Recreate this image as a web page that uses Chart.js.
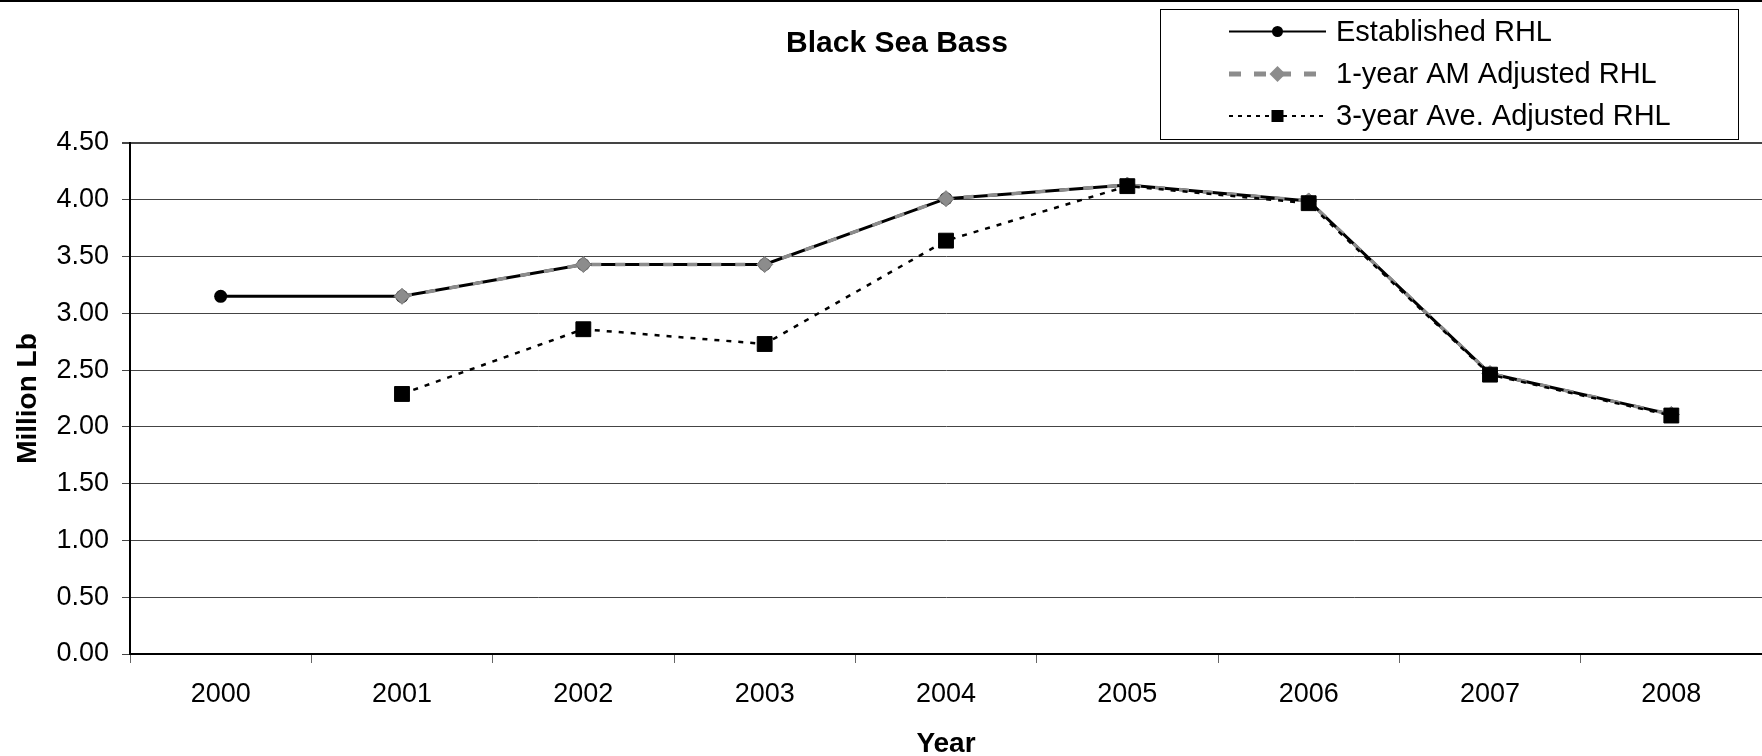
<!DOCTYPE html>
<html>
<head>
<meta charset="utf-8">
<title>Black Sea Bass</title>
<script src="https://cdn.jsdelivr.net/npm/chart.js@4/dist/chart.umd.min.js"></script>
<style>
  html, body { margin: 0; padding: 0; background: #fff; }
  #wrap { width: 1762px; height: 756px; }
</style>
</head>
<body>
<div id="wrap"><canvas id="c" width="1762" height="756"></canvas></div>
<script>
// Recreational harvest limits, million pounds
const years = ['2000', '2001', '2002', '2003', '2004', '2005', '2006', '2007', '2008'];
const establishedRHL = [3.15, 3.15, 3.43, 3.43, 4.01, 4.13, 3.99, 2.47, 2.11];
const oneYearAMAdjusted = [null, 3.15, 3.43, 3.43, 4.01, 4.13, 3.99, 2.47, 2.11];
const threeYearAveAdjusted = [null, 2.29, 2.86, 2.73, 3.64, 4.12, 3.97, 2.46, 2.10];
const yTickValues = [0, 0.5, 1, 1.5, 2, 2.5, 3, 3.5, 4, 4.5];

const seriesNames = ['Established RHL', '1-year AM Adjusted RHL', '3-year Ave. Adjusted RHL'];
const FONT = '"Liberation Sans", Arial, Helvetica, sans-serif';

// Title, frame line and boxed legend drawn straight on the canvas
const decorations = {
  id: 'decorations',
  beforeDraw(chart) {
    const ctx = chart.ctx;
    ctx.save();
    ctx.fillStyle = '#fff';
    ctx.fillRect(0, 0, chart.width, chart.height);
    ctx.restore();
  },
  afterDraw(chart) {
    const ctx = chart.ctx;
    ctx.save();
    // top frame line
    ctx.fillStyle = '#000';
    ctx.fillRect(0, 0, chart.width, 2);

    // title
    ctx.font = 'bold 30px ' + FONT;
    ctx.textAlign = 'center';
    ctx.textBaseline = 'middle';
    ctx.fillText('Black Sea Bass', 897, 44);

    // legend box
    ctx.strokeStyle = '#000';
    ctx.lineWidth = 1;
    ctx.strokeRect(1160.5, 9.5, 578, 130);

    const rows = [31.5, 74, 116];
    const x0 = 1229, x1 = 1326, xm = 1277.5;
    ctx.font = '29px ' + FONT;
    ctx.textAlign = 'left';
    ctx.textBaseline = 'middle';

    // Established RHL
    ctx.beginPath();
    ctx.setLineDash([]);
    ctx.lineWidth = 2;
    ctx.strokeStyle = '#000';
    ctx.moveTo(x0, rows[0]); ctx.lineTo(x1, rows[0]);
    ctx.stroke();
    ctx.beginPath();
    ctx.fillStyle = '#000';
    ctx.arc(xm, rows[0], 5.5, 0, Math.PI * 2);
    ctx.fill();

    // 1-year AM adjusted
    ctx.beginPath();
    ctx.setLineDash([12, 13]);
    ctx.lineWidth = 5;
    ctx.strokeStyle = '#8c8c8c';
    ctx.moveTo(x0, rows[1]); ctx.lineTo(x1, rows[1]);
    ctx.stroke();
    ctx.setLineDash([]);
    ctx.beginPath();
    ctx.fillStyle = '#8c8c8c';
    ctx.moveTo(xm - 8, rows[1]); ctx.lineTo(xm, rows[1] - 8);
    ctx.lineTo(xm + 8, rows[1]); ctx.lineTo(xm, rows[1] + 8);
    ctx.closePath();
    ctx.fill();

    // 3-year average adjusted
    ctx.beginPath();
    ctx.setLineDash([4, 5]);
    ctx.lineWidth = 2;
    ctx.strokeStyle = '#000';
    ctx.moveTo(x0, rows[2]); ctx.lineTo(x1, rows[2]);
    ctx.stroke();
    ctx.setLineDash([]);
    ctx.fillStyle = '#000';
    ctx.fillRect(xm - 6, rows[2] - 6, 12, 12);

    ctx.fillStyle = '#000';
    seriesNames.forEach((name, i) => ctx.fillText(name, 1336, rows[i] + 1));
    ctx.restore();
  }
};

new Chart(document.getElementById('c'), {
  type: 'line',
  data: {
    labels: years,
    datasets: [
      {
        label: seriesNames[0],
        data: establishedRHL,
        order: 3,
        borderColor: '#000',
        borderWidth: 3,
        tension: 0,
        pointStyle: 'circle',
        pointRadius: 6.5,
        pointBackgroundColor: '#000',
        pointBorderColor: '#000',
        pointBorderWidth: 0
      },
      {
        label: seriesNames[1],
        data: oneYearAMAdjusted,
        order: 2,
        borderColor: '#8c8c8c',
        borderWidth: 3.5,
        borderDash: [10, 14],
        tension: 0,
        pointStyle: 'rectRot',
        pointRadius: 8,
        pointBackgroundColor: '#8c8c8c',
        pointBorderColor: '#7a7a7a',
        pointBorderWidth: 1
      },
      {
        label: seriesNames[2],
        data: threeYearAveAdjusted,
        order: 1,
        borderColor: '#000',
        borderWidth: 2.5,
        borderDash: [5, 7],
        tension: 0,
        pointStyle: 'rect',
        pointRadius: 10.5,
        pointBackgroundColor: '#000',
        pointBorderColor: '#000',
        pointBorderWidth: 1
      }
    ]
  },
  options: {
    responsive: false,
    animation: false,
    devicePixelRatio: 1,
    layout: { autoPadding: false, padding: { top: 143, left: 0, right: 0, bottom: 0 } },
    plugins: {
      legend: { display: false },
      title: { display: false },
      tooltip: { enabled: false }
    },
    scales: {
      x: {
        type: 'category',
        offset: true,
        grid: {
          display: true,
          offset: true,
          drawOnChartArea: false,
          drawTicks: true,
          tickLength: 9,
          color: '#666',
          lineWidth: 1
        },
        border: { display: true, color: '#000', width: 2 },
        ticks: {
          color: '#000',
          font: { family: FONT, size: 27 },
          padding: 15,
          maxRotation: 0,
          autoSkip: false
        },
        title: {
          display: true,
          text: 'Year',
          color: '#000',
          font: { family: FONT, size: 28, weight: 'bold' },
          padding: { top: 0, bottom: -5 }
        },
        afterFit(scale) {
          scale.height = 102;
          scale.paddingLeft = 0;
          scale.paddingRight = 0;
        }
      },
      y: {
        min: 0,
        max: 4.5,
        afterBuildTicks(scale) {
          scale.ticks = yTickValues.map(v => ({ value: v }));
        },
        grid: {
          color: '#444',
          lineWidth: (c) => (c.tick && c.tick.value === 4.5 ? 2 : 1),
          tickColor: '#444',
          tickLength: 8,
          drawTicks: true
        },
        border: { display: true, color: '#000', width: 2 },
        ticks: {
          color: '#000',
          font: { family: FONT, size: 27 },
          padding: 13,
          callback: (v) => Number(v).toFixed(2)
        },
        title: {
          display: true,
          text: 'Million Lb',
          color: '#000',
          font: { family: FONT, size: 28, weight: 'bold' },
          padding: { top: 11, bottom: 0 }
        },
        afterFit(scale) { scale.width = 130; }
      }
    }
  },
  plugins: [decorations]
});
</script>
</body>
</html>
